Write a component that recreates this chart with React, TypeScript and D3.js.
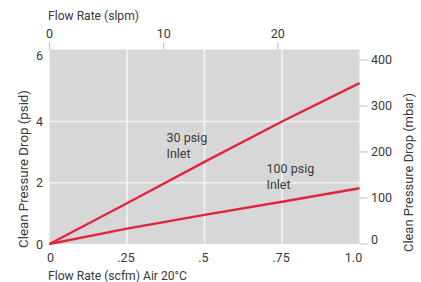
import React from "react";
import * as d3 from "d3";

const flowScfm = [0, 0.25, 0.5, 0.75, 1.0];
const psig30 = [0, 1.33, 2.68, 4.0, 5.25];
const psig100 = [0, 0.5, 0.95, 1.38, 1.82];
const bottomTicks = [0, 0.25, 0.5, 0.75, 1.0];
const bottomTickLabels = ["0", ".25", ".5", ".75", "1.0"];
const topTicks = [0, 10, 20];
const leftTicks = [0, 2, 4, 6];
const rightTicks = [0, 100, 200, 300, 400];
const gridX = [0.25, 0.5, 0.75];
const gridY = [2, 4];

const W = 421;
const H = 282;
const M = { left: 49.5, right: 359.5, top: 49.5, bottom: 244 };
const FONT = "'Roboto', 'Liberation Sans', sans-serif";

export default function App() {
  const x = d3.scaleLinear().domain([0, 1]).range([M.left, M.right]);
  const xTop = d3.scaleLinear().domain([0, 27.15]).range([M.left, M.right]);
  const y = d3.scaleLinear().domain([0, 6.35]).range([M.bottom, M.top]);
  const yR = d3.scaleLinear().domain([0, 422.8]).range([M.bottom, M.top]);
  const line = d3
    .line<[number, number]>()
    .x((d) => x(d[0]))
    .y((d) => y(d[1]));
  const s30 = flowScfm.map((f, i) => [f, psig30[i]] as [number, number]);
  const s100 = flowScfm.map((f, i) => [f, psig100[i]] as [number, number]);
  const txt = "#3a3a3a";
  return (
    <svg
      width={W}
      height={H}
      style={{ position: "fixed", left: 0, top: 0, background: "#fff" }}
      fontFamily={FONT}
    >
      <rect x={M.left} y={M.top} width={M.right - M.left} height={M.bottom - M.top} fill="#d7d7d7" />
      {gridX.map((g) => (
        <line key={"gx" + g} x1={x(g)} x2={x(g)} y1={M.top} y2={M.bottom} stroke="#f4f4f4" strokeWidth={1.5} />
      ))}
      {gridY.map((g) => (
        <line key={"gy" + g} x1={M.left} x2={M.right} y1={y(g)} y2={y(g)} stroke="#f4f4f4" strokeWidth={1.5} />
      ))}
      <path d={line(s30) || ""} fill="none" stroke="#e0263f" strokeWidth={2.4} />
      <path d={line(s100) || ""} fill="none" stroke="#e0263f" strokeWidth={2.4} />

      {/* top axis */}
      <text x={48} y={19.5} fontSize={13} fill={txt} textLength={91} lengthAdjust="spacingAndGlyphs">Flow Rate (slpm)</text>
      {topTicks.map((t) => (
        <g key={"t" + t}>
          <line x1={xTop(t)} x2={xTop(t)} y1={M.top - 7} y2={M.top} stroke="#bbb" strokeWidth={1} />
          <text x={xTop(t)} y={37.5} fontSize={12.5} fill={txt} textAnchor="middle">{t}</text>
        </g>
      ))}

      {/* left axis */}
      {leftTicks.map((t) => (
        <text key={"l" + t} x={43} y={t === 6 ? 59.5 : y(t) + 4.5} fontSize={12.5} fill={txt} textAnchor="end">{t}</text>
      ))}
      <text
        transform={`translate(27.5,169) rotate(-90)`}
        fontSize={13}
        fill={txt}
        textAnchor="middle"
        textLength={158}
        lengthAdjust="spacingAndGlyphs"
      >
        Clean Pressure Drop (psid)
      </text>

      {/* right axis */}
      {rightTicks.map((t) => (
        <g key={"r" + t}>
          <line x1={M.right} x2={M.right + 8} y1={yR(t)} y2={yR(t)} stroke="#bbb" strokeWidth={1} />
          <text x={371} y={t === 0 ? yR(t) : yR(t) + 4.5} fontSize={12.5} fill={txt}>{t}</text>
        </g>
      ))}
      <text
        transform={`translate(412.5,172.5) rotate(-90)`}
        fontSize={13}
        fill={txt}
        textAnchor="middle"
        textLength={159}
        lengthAdjust="spacingAndGlyphs"
      >
        Clean Pressure Drop (mbar)
      </text>

      {/* bottom axis */}
      {bottomTicks.map((t, i) => (
        <text key={"b" + t} x={i === 0 ? x(t) + 1 : i === 4 ? x(t) - 6 : x(t) - 1} y={261.5} fontSize={12.5} fill={txt} textAnchor="middle">
          {bottomTickLabels[i]}
        </text>
      ))}
      <text x={48} y={279.5} fontSize={13} fill={txt} textLength={139} lengthAdjust="spacingAndGlyphs">Flow Rate (scfm) Air 20°C</text>

      {/* annotations */}
      <text x={166.5} y={141.5} fontSize={12.5} fill={txt}>30 psig</text>
      <text x={166.5} y={157.5} fontSize={12.5} fill={txt}>Inlet</text>
      <text x={266.5} y={172.5} fontSize={12.5} fill={txt}>100 psig</text>
      <text x={266.5} y={188.5} fontSize={12.5} fill={txt}>Inlet</text>
    </svg>
  );
}
